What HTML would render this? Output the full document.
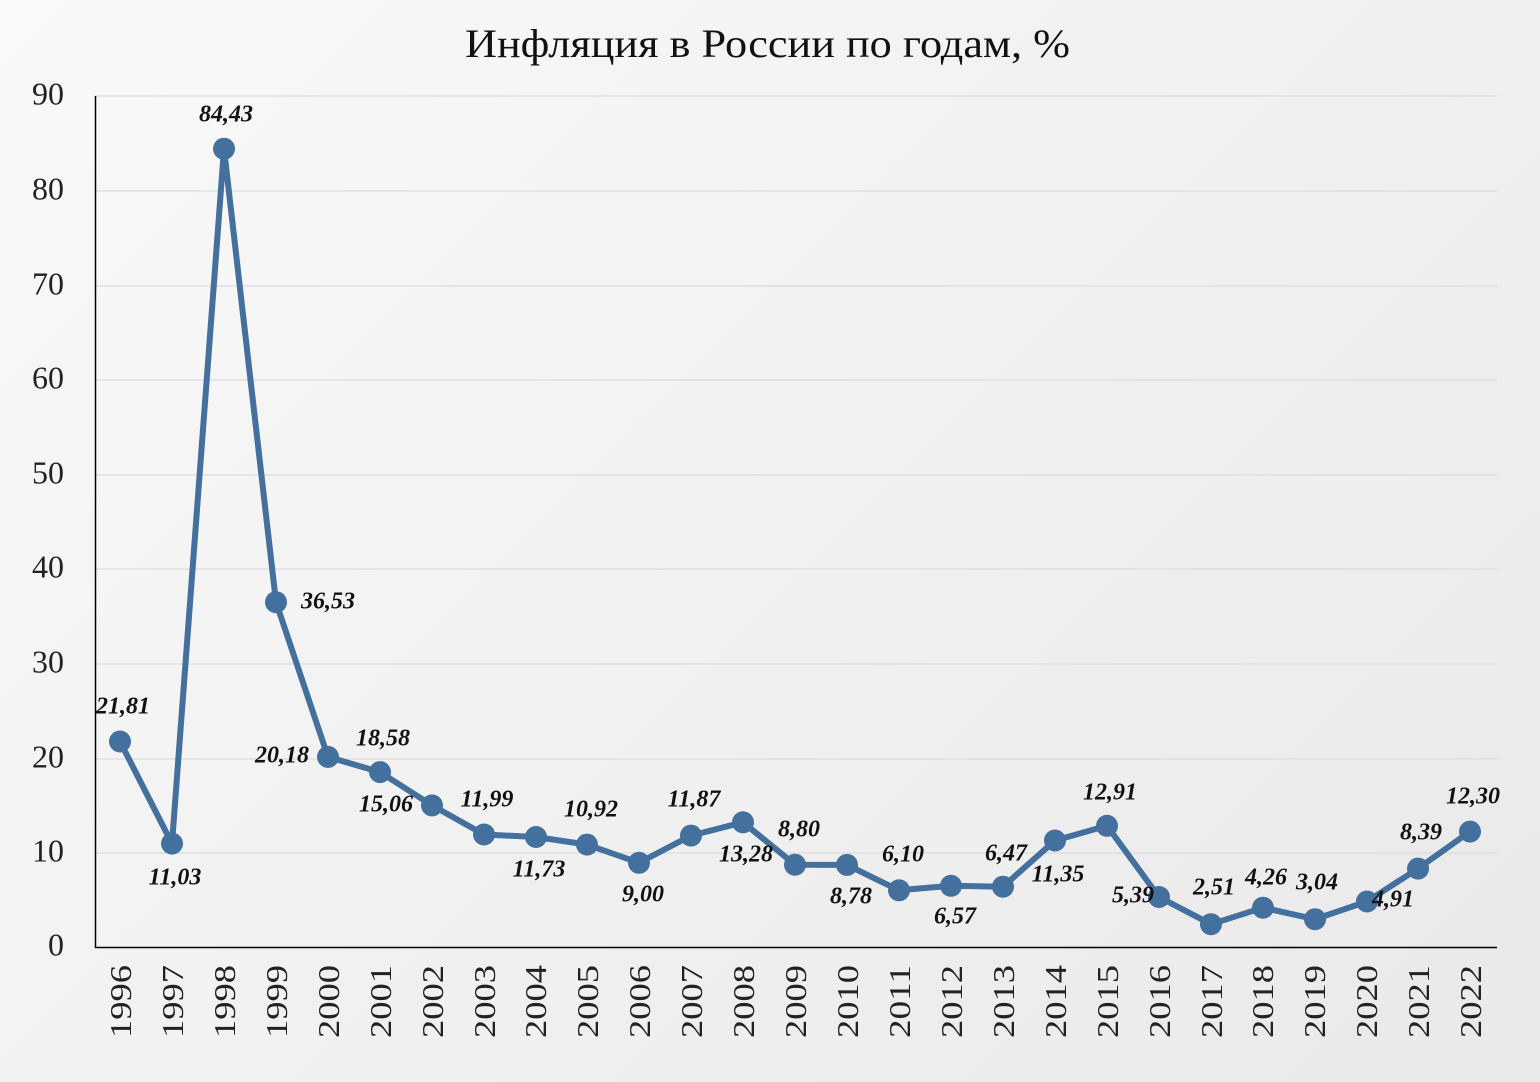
<!DOCTYPE html>
<html><head><meta charset="utf-8"><style>
html,body{margin:0;padding:0}
body{width:1540px;height:1082px;background:linear-gradient(135deg,#f9f9f9 0%,#f1f1f1 50%,#e9e9e9 100%);overflow:hidden}
svg{display:block}
</style></head><body>
<svg width="1540" height="1082" xmlns="http://www.w3.org/2000/svg" font-family="'Liberation Serif',serif">
<text x="465" y="57" font-size="40" textLength="605" lengthAdjust="spacingAndGlyphs" fill="#111">Инфляция в России по годам, %</text>
<g stroke="#dcdcdc" stroke-width="1.2">
<line x1="95" x2="1497" y1="96" y2="96"/><line x1="95" x2="1497" y1="191" y2="191"/><line x1="95" x2="1497" y1="286" y2="286"/><line x1="95" x2="1497" y1="380" y2="380"/><line x1="95" x2="1497" y1="475" y2="475"/><line x1="95" x2="1497" y1="569" y2="569"/><line x1="95" x2="1497" y1="664" y2="664"/><line x1="95" x2="1497" y1="759" y2="759"/><line x1="95" x2="1497" y1="853" y2="853"/>
</g>
<line x1="95.5" y1="96" x2="95.5" y2="948" stroke="#000" stroke-width="1.5"/>
<line x1="95" y1="947.5" x2="1497" y2="947.5" stroke="#000" stroke-width="1.5"/>
<g font-size="32" fill="#222" text-anchor="end" dominant-baseline="middle">
<text x="64" y="97">90</text><text x="64" y="192">80</text><text x="64" y="287">70</text><text x="64" y="381">60</text><text x="64" y="476">50</text><text x="64" y="570">40</text><text x="64" y="665">30</text><text x="64" y="760">20</text><text x="64" y="854">10</text><text x="64" y="948">0</text>
</g>
<g font-size="31" fill="#222" text-anchor="end">
<text transform="translate(131,965) rotate(-90)" textLength="73" lengthAdjust="spacingAndGlyphs">1996</text><text transform="translate(183,965) rotate(-90)" textLength="73" lengthAdjust="spacingAndGlyphs">1997</text><text transform="translate(235,965) rotate(-90)" textLength="73" lengthAdjust="spacingAndGlyphs">1998</text><text transform="translate(287,965) rotate(-90)" textLength="73" lengthAdjust="spacingAndGlyphs">1999</text><text transform="translate(339,965) rotate(-90)" textLength="73" lengthAdjust="spacingAndGlyphs">2000</text><text transform="translate(391,965) rotate(-90)" textLength="73" lengthAdjust="spacingAndGlyphs">2001</text><text transform="translate(443,965) rotate(-90)" textLength="73" lengthAdjust="spacingAndGlyphs">2002</text><text transform="translate(495,965) rotate(-90)" textLength="73" lengthAdjust="spacingAndGlyphs">2003</text><text transform="translate(546,965) rotate(-90)" textLength="73" lengthAdjust="spacingAndGlyphs">2004</text><text transform="translate(598,965) rotate(-90)" textLength="73" lengthAdjust="spacingAndGlyphs">2005</text><text transform="translate(650,965) rotate(-90)" textLength="73" lengthAdjust="spacingAndGlyphs">2006</text><text transform="translate(702,965) rotate(-90)" textLength="73" lengthAdjust="spacingAndGlyphs">2007</text><text transform="translate(754,965) rotate(-90)" textLength="73" lengthAdjust="spacingAndGlyphs">2008</text><text transform="translate(806,965) rotate(-90)" textLength="73" lengthAdjust="spacingAndGlyphs">2009</text><text transform="translate(858,965) rotate(-90)" textLength="73" lengthAdjust="spacingAndGlyphs">2010</text><text transform="translate(910,965) rotate(-90)" textLength="73" lengthAdjust="spacingAndGlyphs">2011</text><text transform="translate(962,965) rotate(-90)" textLength="73" lengthAdjust="spacingAndGlyphs">2012</text><text transform="translate(1014,965) rotate(-90)" textLength="73" lengthAdjust="spacingAndGlyphs">2013</text><text transform="translate(1066,965) rotate(-90)" textLength="73" lengthAdjust="spacingAndGlyphs">2014</text><text transform="translate(1118,965) rotate(-90)" textLength="73" lengthAdjust="spacingAndGlyphs">2015</text><text transform="translate(1170,965) rotate(-90)" textLength="73" lengthAdjust="spacingAndGlyphs">2016</text><text transform="translate(1222,965) rotate(-90)" textLength="73" lengthAdjust="spacingAndGlyphs">2017</text><text transform="translate(1273,965) rotate(-90)" textLength="73" lengthAdjust="spacingAndGlyphs">2018</text><text transform="translate(1325,965) rotate(-90)" textLength="73" lengthAdjust="spacingAndGlyphs">2019</text><text transform="translate(1377,965) rotate(-90)" textLength="73" lengthAdjust="spacingAndGlyphs">2020</text><text transform="translate(1429,965) rotate(-90)" textLength="73" lengthAdjust="spacingAndGlyphs">2021</text><text transform="translate(1481,965) rotate(-90)" textLength="73" lengthAdjust="spacingAndGlyphs">2022</text>
</g>
<polyline fill="none" stroke="#44709e" stroke-width="6" stroke-linejoin="round" points="120,741.5 172,843.6 224,148.7 276,602.2 328,756.9 380,772.1 432,805.4 484,834.5 536,837 587,844.6 639,862.8 691,835.6 743,822.3 795,864.7 847,864.9 899,890.3 951,885.8 1003,886.7 1055,840.5 1107,825.8 1159,897 1211,924.2 1263,907.7 1315,919.2 1367,901.5 1418,868.6 1470,831.6"/>
<g fill="#44709e">
<circle cx="120" cy="741.5" r="11"/><circle cx="172" cy="843.6" r="11"/><circle cx="224" cy="148.7" r="11"/><circle cx="276" cy="602.2" r="11"/><circle cx="328" cy="756.9" r="11"/><circle cx="380" cy="772.1" r="11"/><circle cx="432" cy="805.4" r="11"/><circle cx="484" cy="834.5" r="11"/><circle cx="536" cy="837" r="11"/><circle cx="587" cy="844.6" r="11"/><circle cx="639" cy="862.8" r="11"/><circle cx="691" cy="835.6" r="11"/><circle cx="743" cy="822.3" r="11"/><circle cx="795" cy="864.7" r="11"/><circle cx="847" cy="864.9" r="11"/><circle cx="899" cy="890.3" r="11"/><circle cx="951" cy="885.8" r="11"/><circle cx="1003" cy="886.7" r="11"/><circle cx="1055" cy="840.5" r="11"/><circle cx="1107" cy="825.8" r="11"/><circle cx="1159" cy="897" r="11"/><circle cx="1211" cy="924.2" r="11"/><circle cx="1263" cy="907.7" r="11"/><circle cx="1315" cy="919.2" r="11"/><circle cx="1367" cy="901.5" r="11"/><circle cx="1418" cy="868.6" r="11"/><circle cx="1470" cy="831.6" r="11"/>
</g>
<g font-size="24" font-weight="bold" font-style="italic" fill="#111" text-anchor="middle" dominant-baseline="middle">
<text x="123" y="708">21,81</text><text x="175" y="879">11,03</text><text x="226" y="116">84,43</text><text x="328" y="603">36,53</text><text x="282" y="757">20,18</text><text x="383" y="740">18,58</text><text x="386" y="806">15,06</text><text x="487" y="801">11,99</text><text x="539" y="871">11,73</text><text x="591" y="811">10,92</text><text x="643" y="896">9,00</text><text x="694" y="801">11,87</text><text x="746" y="856">13,28</text><text x="799" y="831">8,80</text><text x="851" y="898">8,78</text><text x="903" y="856">6,10</text><text x="955" y="918">6,57</text><text x="1006" y="855">6,47</text><text x="1058" y="876">11,35</text><text x="1110" y="794">12,91</text><text x="1133" y="897">5,39</text><text x="1214" y="889">2,51</text><text x="1266" y="879">4,26</text><text x="1317" y="884">3,04</text><text x="1393" y="901">4,91</text><text x="1421" y="834">8,39</text><text x="1473" y="798">12,30</text>
</g>
</svg>
</body></html>
